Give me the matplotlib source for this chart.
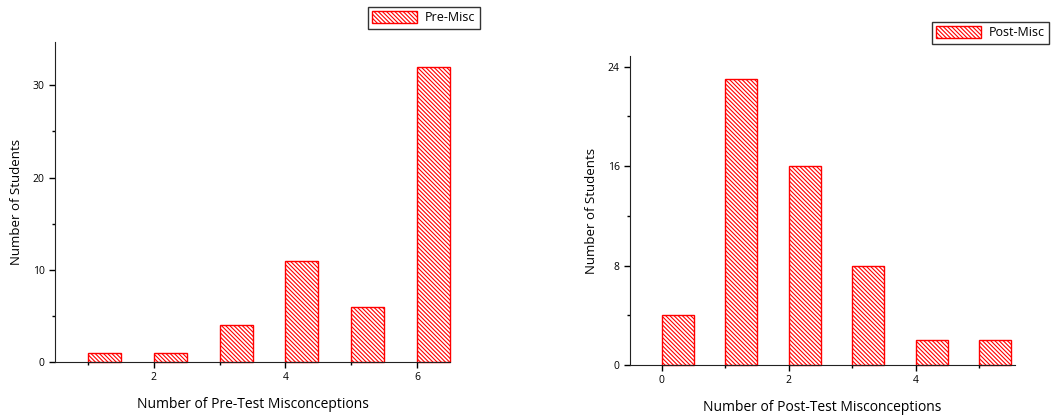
import matplotlib.pyplot as plt
import matplotlib as mpl
import numpy as np

mpl.rcParams['font.family'] = ['Open Sans', 'DejaVu Sans']
mpl.rcParams['hatch.linewidth'] = 0.8
mpl.rcParams['hatch.color'] = 'red'

# pre-test data
pre_x = [1, 2, 3, 4, 5, 6]
pre_counts = [1, 1, 4, 11, 6, 32]

# post-test data
post_x = [0, 1, 2, 3, 4, 5]
post_counts = [4, 23, 16, 8, 2, 2]

W, H = 1057, 415
fig = plt.figure(figsize=(W / 100, H / 100), dpi=100)

ax1 = fig.add_axes([55 / W, 1 - 362 / H, 395 / W, 320 / H])
ax2 = fig.add_axes([630 / W, 1 - 365 / H, 385 / W, 309 / H])


def style(ax, x, y, label, xlim, ylim, major_y, minor_y, major_x, minor_x, xlab, leg_pos):
    bars = ax.bar(x, y, width=0.5, align='edge', color='white', edgecolor='red',
                  hatch='\\' * 8, linewidth=1.0, label=label)
    for b in bars:
        b.set_clip_on(False)
    ax.set_xlim(*xlim)
    ax.set_ylim(*ylim)
    ax.set_yticks(major_y)
    ax.set_yticks(minor_y, minor=True)
    ax.set_xticks(major_x)
    ax.set_xticks(minor_x, minor=True)
    for s in ['top', 'right']:
        ax.spines[s].set_visible(False)
    for s in ['left', 'bottom']:
        ax.spines[s].set_color('#222222')
    ax.tick_params(which='major', direction='out', length=4, labelsize=7.5, width=1)
    ax.tick_params(which='minor', direction='out', length=2.5, width=1)
    ax.set_xlabel(xlab, fontsize=10, labelpad=10)
    ax.set_ylabel('Number of Students', fontsize=9.5, labelpad=7)
    leg = ax.legend(loc='upper left', bbox_to_anchor=leg_pos, bbox_transform=fig.transFigure,
                    fontsize=9, fancybox=False, edgecolor='#333333', framealpha=1,
                    handlelength=3.6, handleheight=1.0, handletextpad=0.6,
                    borderpad=0.35, borderaxespad=0)
    leg.get_frame().set_linewidth(1.0)


style(ax1, pre_x, pre_counts, 'Pre-Misc', (0.5, 6.5), (0, 34.7),
      [0, 10, 20, 30], [5, 15, 25], [2, 4, 6], [1, 3, 5],
      'Number of Pre-Test Misconceptions', (368 / W, 1 - 7 / H))
style(ax2, post_x, post_counts, 'Post-Misc', (-0.5, 5.56), (0, 24.85),
      [0, 8, 16, 24], [4, 12, 20], [0, 2, 4], [1, 3, 5],
      'Number of Post-Test Misconceptions', (932 / W, 1 - 22 / H))

fig.savefig('out.png', dpi=100)
